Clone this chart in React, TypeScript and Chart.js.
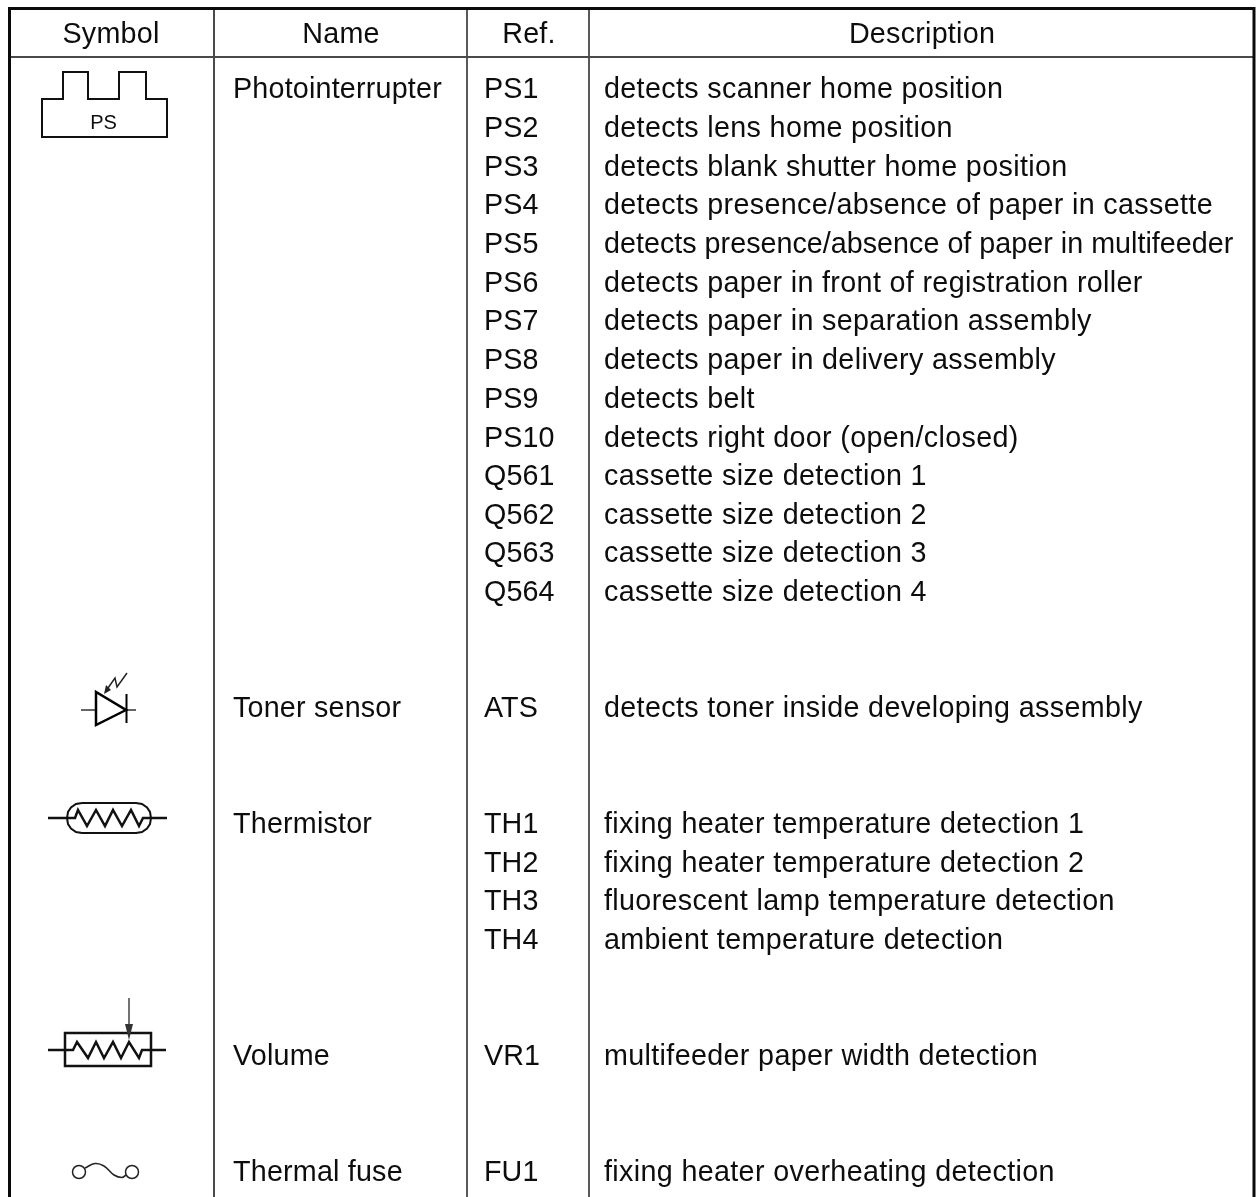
import React, { useEffect, useRef } from "react";
import { Chart, registerables } from "chart.js";

Chart.register(...registerables);

const WIDTH = 1256;
const HEIGHT = 1197;
const FONT = '"Liberation Sans", Arial, sans-serif';

const headers = ["Symbol", "Name", "Ref.", "Description"];
const headerX = [111, 341, 529, 922];
const names = ["Photointerrupter", "Toner sensor", "Thermistor", "Volume", "Thermal fuse"];
const nameY = [98, 717, 833, 1065, 1181];
const refs = ["PS1","PS2","PS3","PS4","PS5","PS6","PS7","PS8","PS9","PS10","Q561","Q562","Q563","Q564","ATS","TH1","TH2","TH3","TH4","VR1","FU1"];
const descriptions = [
  "detects scanner home position",
  "detects lens home position",
  "detects blank shutter home position",
  "detects presence/absence of paper in cassette",
  "detects presence/absence of paper in multifeeder",
  "detects paper in front of registration roller",
  "detects paper in separation assembly",
  "detects paper in delivery assembly",
  "detects belt",
  "detects right door (open/closed)",
  "cassette size detection 1",
  "cassette size detection 2",
  "cassette size detection 3",
  "cassette size detection 4",
  "detects toner inside developing assembly",
  "fixing heater temperature detection 1",
  "fixing heater temperature detection 2",
  "fluorescent lamp temperature detection",
  "ambient temperature detection",
  "multifeeder paper width detection",
  "fixing heater overheating detection",
];
const rowY = [98,137,176,214,253,292,330,369,408,447,485,524,562,601,717,833,872,910,949,1065,1181];

type P = [number, number];
const outerBorder: P[] = [[9.5,1197],[9.5,8.5],[1254,8.5],[1254,1197]];
const headerRule: P[] = [[9,57],[1254,57]];
const columnRules: P[][] = [
  [[214,9],[214,1197]],
  [[467,9],[467,1197]],
  [[589,9],[589,1197]],
];
const psOutline: P[] = [[100,137],[167,137],[167,99],[146,99],[146,72],[119,72],[119,99],[88,99],[88,72],[63,72],[63,99],[42,99],[42,137],[100,137]];
const diodeBody: P[] = [[96,708],[96,692],[126,710],[96,725],[96,708]];
const diodeBar: P[] = [[126.5,694],[126.5,723]];
const diodeLeadL: P[] = [[81,710],[96,710]];
const diodeLeadR: P[] = [[126,710],[136,710]];
const diodeRay: P[] = [[127,673],[117,687],[115,678],[108,688]];
const diodeRayHead: P[] = [[104,694],[106,685],[111,690]];
const thermistorLeadL: P[] = [[48,818],[67,818]];
const thermistorLeadR: P[] = [[151,818],[167,818]];
const capsule: P[] = [[82,803],[76,804],[71,807.5],[68,812],[67,818],[68,824],[71,828.5],[76,832],[82,833],[136,833],[142,832],[147,828.5],[150,824],[151,818],[150,812],[147,807.5],[142,804],[136,803],[82,803]];
const thermistorZig: P[] = [[67,818],[75,818],[78,810],[87,826],[96,810],[105,826],[113,810],[122,826],[131,810],[139,826],[143,818],[151,818]];
const volumeBox: P[] = [[100,1033],[151,1033],[151,1066],[65,1066],[65,1033],[100,1033]];
const volumeZig: P[] = [[48,1050],[73,1050],[77,1042],[88,1058],[96,1042],[104,1058],[113,1042],[121,1058],[129,1042],[139,1058],[142,1050],[166,1050]];
const volumeArrow: P[] = [[129,998],[129,1026]];
const volumeArrowHead: P[] = [[125,1024],[133,1024],[129,1040]];
const fuseCurve: P[] = [[85,1168],[95,1163.5],[104,1166],[114,1175],[122,1177.5],[126,1175]];
const fuseContacts: P[] = [[79,1172],[132,1172]];

const toXY = (pts: P[]) => pts.map(([x, y]) => ({ x, y }));
const line = (pts: P[], color: string, width: number, extra: object = {}) => ({
  data: toXY(pts),
  showLine: true,
  borderColor: color,
  borderWidth: width,
  pointRadius: 0,
  tension: 0,
  fill: false,
  borderJoinStyle: "miter",
  ...extra,
});

const tablePlugin = {
  id: "tableText",
  afterDatasetsDraw(chart: any) {
    const { ctx, scales } = chart;
    const px = (x: number) => scales.x.getPixelForValue(x);
    const py = (y: number) => scales.y.getPixelForValue(y);
    const put = (s: string, x: number, y: number, align: CanvasTextAlign, size: number, tracking: number) => {
      ctx.font = `${size}px ${FONT}`;
      ctx.letterSpacing = `${tracking}px`;
      ctx.textAlign = align;
      ctx.textBaseline = "alphabetic";
      ctx.fillStyle = "#0d0d0d";
      ctx.fillText(s, px(x), py(y));
    };
    ctx.save();
    [[diodeRayHead, "#222222"], [volumeArrowHead, "#333333"]].forEach(([head, color]: any) => {
      ctx.beginPath();
      head.forEach(([x, y]: P, j: number) => (j === 0 ? ctx.moveTo(px(x), py(y)) : ctx.lineTo(px(x), py(y))));
      ctx.closePath();
      ctx.fillStyle = color;
      ctx.fill();
    });
    headers.forEach((h, i) => put(h, headerX[i], 43, "center", 28.7, 0.25));
    names.forEach((n, i) => put(n, 233, nameY[i], "left", 28.7, 0.2));
    refs.forEach((r, i) => put(r, 484, rowY[i], "left", 28.7, 0.1));
    descriptions.forEach((d, i) => put(d, 604, rowY[i], "left", 28.7, d.endsWith("in multifeeder") ? 0.02 : 0.35));
    put("PS", 103.5, 129, "center", 20, 0);
    ctx.restore();
  },
};

export default function App() {
  const ref = useRef<HTMLCanvasElement>(null);
  useEffect(() => {
    document.body.style.margin = "0";
    const chart = new Chart(ref.current!, {
      type: "scatter",
      data: {
        datasets: [
          line(outerBorder, "#0a0a0a", 3),
          line(headerRule, "#4a4a4a", 2),
          line(columnRules[0], "#4a4a4a", 2),
          line(columnRules[1], "#222222", 1.5),
          line(columnRules[2], "#222222", 1.5),
          line(psOutline, "#111111", 2),
          line(diodeBody, "#000000", 2.5),
          line(diodeBar, "#000000", 2),
          line(diodeLeadL, "#333333", 1.5),
          line(diodeLeadR, "#333333", 1.5),
          line(diodeRay, "#222222", 1.5),
          line(capsule, "#111111", 2),
          line(thermistorLeadL, "#111111", 2.5),
          line(thermistorLeadR, "#111111", 2.5),
          line(thermistorZig, "#111111", 2.5),
          line(volumeBox, "#111111", 2.5),
          line(volumeZig, "#111111", 2.5),
          line(volumeArrow, "#444444", 1.5),
          line(fuseCurve, "#222222", 1.5, { tension: 0.4 }),
          {
            data: toXY(fuseContacts),
            showLine: false,
            pointStyle: "circle",
            pointRadius: 6.5,
            pointBorderWidth: 1.5,
            pointBorderColor: "#222222",
            pointBackgroundColor: "rgba(0,0,0,0)",
          },
        ] as any,
      },
      options: {
        animation: false,
        responsive: false,
        maintainAspectRatio: false,
        layout: { padding: 0, autoPadding: false },
        plugins: { legend: { display: false }, tooltip: { enabled: false } },
        scales: {
          x: { type: "linear", display: false, min: 0, max: WIDTH },
          y: { type: "linear", display: false, min: 0, max: HEIGHT, reverse: true },
        },
      },
      plugins: [tablePlugin],
    });
    return () => chart.destroy();
  }, []);
  return (
    <div style={{ position: "absolute", left: 0, top: 0, width: WIDTH, height: HEIGHT, background: "#fff", overflow: "hidden" }}>
      <canvas ref={ref} width={WIDTH} height={HEIGHT} style={{ display: "block" }} />
    </div>
  );
}
